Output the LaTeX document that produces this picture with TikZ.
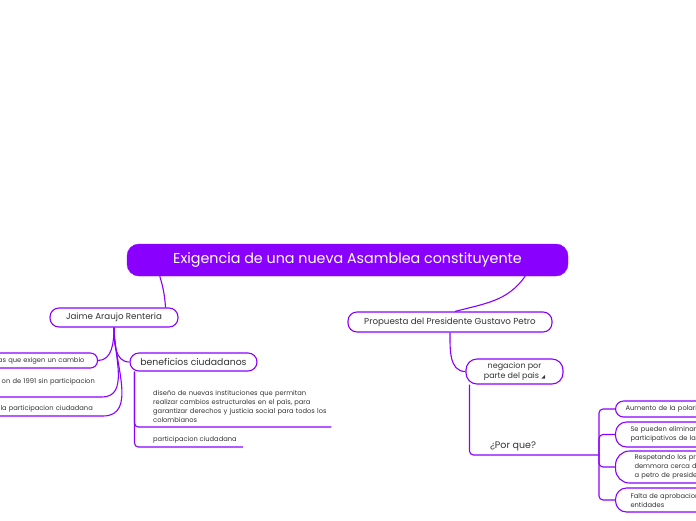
\documentclass[tikz,border=0pt]{standalone}
\usepackage{fontspec}
\setmainfont{Poppins}
\newfontfamily\symfont{DejaVu Sans}
\usetikzlibrary{calc}
\definecolor{mmviolet}{HTML}{8A00FF}
\definecolor{mmtext}{HTML}{333333}

\begin{document}
\begin{tikzpicture}[
  x=1pt, y=-1pt,
  topic/.style={draw=mmviolet, line width=1.1pt, rounded corners=9pt, fill=white, text=mmtext, inner sep=0pt, font=\fontsize{8.7}{10}\selectfont},
  leaf/.style={text=mmtext, inner sep=0pt, font=\fontsize{6.7}{9}\selectfont},
  link/.style={draw=mmviolet, line width=1.1pt}
]
\clip (0,0) rectangle (696,520);

% main topic
\node[draw=mmviolet, fill=mmviolet, rounded corners=12pt, minimum width=441pt, minimum height=32pt, text=white, font=\fontsize{14.3}{16}\selectfont] (root) at (347.5,260) {Exigencia de una nueva Asamblea constituyente};

% first level
\node[topic, minimum width=128pt, minimum height=19pt] (jaime) at (114,317.5) {Jaime Araujo Renteria};
\node[topic, minimum width=204pt, minimum height=20pt] (petro) at (450,322) {Propuesta del Presidente Gustavo Petro};
\draw[link] ($(root.south west)+(33,0)$) to[bend left=6] ($(jaime.north east)+(-13,0)$);
\draw[link] ($(root.south east)+(-43,0)$) to[out=-125, in=15] ($(petro.north)+(5,0)$);

% left branch
\node[topic, font=\fontsize{6.7}{8}\selectfont, rounded corners=7pt, minimum height=15pt, text width=140pt, align=right, inner xsep=13pt, anchor=east] (left1) at (98,360.5) {sas que exigen un cambio};
\node[leaf, text width=140pt, align=right, anchor=south east, inner ysep=12pt] (left2) at (95,397) {on de 1991 sin participacion};
\node[leaf, text width=140pt, align=right, anchor=south east, inner ysep=4pt] (left3) at (93,416) {la participacion ciudadana};
\node[topic, font=\fontsize{9.3}{11}\selectfont, minimum width=127pt, minimum height=18pt] (benef) at (193.5,362) {beneficios ciudadanos};
\draw[link] (jaime.south) to[out=-90, in=0] (left1.east);
\draw[link] (jaime.south) to[out=-90, in=0] ([xshift=7pt]left2.south east) -- (left2.south west);
\draw[link] (jaime.south) to[out=-90, in=0] ([xshift=10pt]left3.south east) -- (left3.south west);
\draw[link] (jaime.south) to[out=-90, in=180] (benef.west);

% beneficios ciudadanos
\node[leaf, text width=178pt, align=left, anchor=south west, inner ysep=4pt] (ben1) at (153,427) {dise\~no de nuevas instituciones que permitan\\realizar cambios estructurales en el pa\'is, para\\garantizar derechos y justicia social para todos los\\colombianos};
\node[leaf, anchor=south west, inner ysep=4pt] (ben2) at (153,447) {participacion ciudadana};
\draw[link, rounded corners=4pt] ($(benef.south west)+(5,0)$) |- (ben1.south east);
\draw[link, rounded corners=4pt] ($(benef.south west)+(5,0)$) |- ([xshift=6pt]ben2.south east);

% right branch
\node[topic, font=\fontsize{8}{10}\selectfont, rounded corners=11pt, minimum width=97pt, minimum height=25pt, align=center] (neg) at (514.5,371.5) {negacion por\\parte del pais {\symfont\fontsize{5}{5}\selectfont ◢}};
\draw[link] (petro.south) to[out=-90, in=180] (neg.west);
\node[leaf, font=\fontsize{9.5}{11}\selectfont] (porque) at (513,446) {¿Por que?};
\coordinate (hub) at (599,455);
\draw[link, rounded corners=4pt] ($(neg.south west)+(4,0)$) |- (hub);

\node[topic, leaf, draw=mmviolet, line width=1.1pt, rounded corners=8pt, fill=white, anchor=west, minimum height=16pt, text width=110pt, align=left, inner xsep=10pt] (r1) at (615,409) {Aumento de la polari};
\node[topic, leaf, draw=mmviolet, line width=1.1pt, rounded corners=11pt, fill=white, anchor=west, minimum height=25pt, text width=110pt, align=left, inner xsep=15pt] (r2) at (615,434.5) {Se pueden eliminar\\participativos de la};
\node[topic, leaf, draw=mmviolet, line width=1.1pt, rounded corners=14pt, fill=white, anchor=west, minimum height=32pt, text width=110pt, align=left, inner xsep=19pt] (r3) at (615,467) {Respetando los pr\\demmora cerca de\\a petro de preside};
\node[topic, leaf, draw=mmviolet, line width=1.1pt, rounded corners=11pt, fill=white, anchor=west, minimum height=24pt, text width=110pt, align=left, inner xsep=15pt] (r4) at (615,500) {Falta de aprobacion\\entidades};
\foreach \r in {r1,r2,r3,r4}
  \draw[link, rounded corners=4pt] (hub) |- (\r.west);
\end{tikzpicture}
\end{document}
